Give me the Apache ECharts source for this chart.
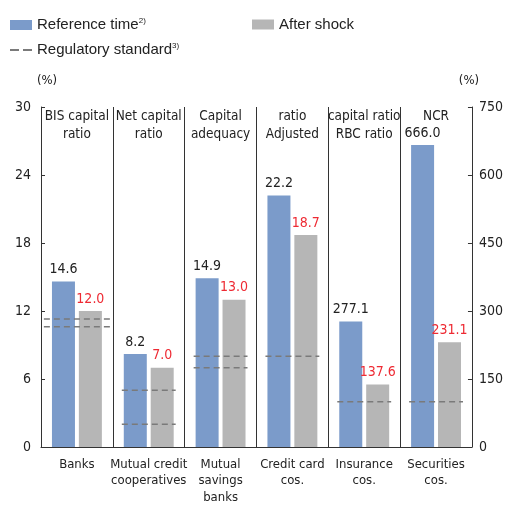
<!DOCTYPE html>
<html><head><meta charset="utf-8">
<script src="https://cdn.jsdelivr.net/npm/echarts@6/dist/echarts.min.js"></script>
<style>html,body{margin:0;padding:0;background:#fff}#c{width:506px;height:510px}</style>
</head><body><div id="c"></div>
<script>
// ---- data ----
const categories = ['Banks', 'Mutual credit\ncooperatives', 'Mutual\nsavings\nbanks', 'Credit card\ncos.', 'Insurance\ncos.', 'Securities\ncos.'];
const measureHeaders = ['BIS capital\nratio', 'Net capital\nratio', 'Capital\nadequacy', 'ratio\nAdjusted', 'capital ratio\nRBC ratio', 'NCR'];
const referenceLeft = [14.6, 8.2, 14.9, 22.2, null, null];
const afterShockLeft = [12.0, 7.0, 13.0, 18.7, null, null];
const referenceRight = [null, null, null, null, 277.1, 666.0];
const afterShockRight = [null, null, null, null, 137.6, 231.1];
const regulatoryLeft = [[0, 11.3], [0, 10.6], [1, 5.0], [1, 2.0], [2, 8.0], [2, 7.0], [3, 8.0]];
const regulatoryRight = [[4, 100], [5, 100]];
const leftAxisMin = 0, leftAxisMax = 30, leftAxisStep = 6;
const rightAxisMin = 0, rightAxisMax = 750, rightAxisStep = 150;

// ---- style ----
const BLUE = '#7b9bca', GRAY = '#b6b6b6', RED = '#ee2a33', DASH = '#7a7a7a', INK = '#222';
const COND = '"Liberation Sans Narrow","DejaVu Sans Condensed","Roboto Condensed",Roboto,sans-serif';
const SANS = '"Liberation Sans",Arial,sans-serif';

function renderReg(params, api) {
  const idx = api.value(0);
  const c = api.coord([idx, api.value(1)]);
  const band = api.size([1, 0])[0];
  const half = band * (idx === 0 ? 0.46 : 0.375);
  return {
    type: 'line',
    shape: { x1: c[0] - half, y1: c[1], x2: c[0] + half, y2: c[1] },
    style: { stroke: DASH, lineWidth: 1.5, lineDash: [6, 4] }
  };
}

const barLabel = (color) => ({
  show: true, position: 'top', distance: 5, color: color,
  fontFamily: COND, fontSize: 14,
  formatter: (p) => Number(p.value).toFixed(1)
});

const legendText = { fontFamily: SANS, fontSize: 15, color: INK,
  rich: { s: { fontFamily: SANS, fontSize: 8, color: INK, verticalAlign: 'top', padding: [0, 0, 8, 0] } } };
const legendFmt = (n) => n === 'Reference time' ? 'Reference time{s|2)}' : (n === 'Regulatory standard' ? 'Regulatory standard{s|3)}' : n);

const chart = echarts.init(document.getElementById('c'), null, { renderer: 'canvas' });
chart.setOption({
  animation: false,
  backgroundColor: '#fff',
  legend: [
    { data: ['Reference time'], left: 5, top: 12, itemWidth: 22, itemHeight: 10, itemGap: 8, textStyle: legendText, formatter: legendFmt, icon: 'rect', selectedMode: false },
    { data: ['After shock'], left: 247, top: 12, itemWidth: 22, itemHeight: 10, textStyle: legendText, formatter: legendFmt, icon: 'rect', selectedMode: false },
    { data: [{ name: 'Regulatory standard', icon: 'path://M0,0h9v2h-9zM13,0h9v2h-9z' }], left: 5, top: 37, itemWidth: 22, itemHeight: 2, textStyle: legendText, formatter: legendFmt, selectedMode: false }
  ],
  grid: { left: 41, right: 33, top: 107, bottom: 63, containLabel: false },
  xAxis: [
    {
      type: 'category', data: categories, position: 'bottom',
      axisLine: { show: true, lineStyle: { color: '#333', width: 1 } },
      axisTick: { show: false },
      splitLine: { show: true, lineStyle: { color: '#333', width: 1 } },
      axisLabel: { interval: 0, margin: 9, fontFamily: COND, fontSize: 13, color: INK, lineHeight: 16.5 }
    },
    {
      type: 'category', data: measureHeaders, position: 'top',
      axisLine: { show: false }, axisTick: { show: false }, splitLine: { show: false },
      axisLabel: { interval: 0, inside: true, margin: 0, fontFamily: COND, fontSize: 13.5, color: INK, lineHeight: 18.5 }
    }
  ],
  yAxis: [
    {
      type: 'value', min: leftAxisMin, max: leftAxisMax, interval: leftAxisStep, position: 'left',
      name: '(%)', nameLocation: 'end', nameGap: 20,
      nameTextStyle: { fontFamily: COND, fontSize: 13, color: INK, padding: [0, 0, 0, 12] },
      axisLine: { show: true, lineStyle: { color: '#333', width: 1 } },
      axisTick: { show: true, inside: true, length: 4, lineStyle: { color: '#333' } },
      splitLine: { show: false },
      axisLabel: { margin: 10, fontFamily: COND, fontSize: 14, color: INK }
    },
    {
      type: 'value', min: rightAxisMin, max: rightAxisMax, interval: rightAxisStep, position: 'right',
      name: '(%)', nameLocation: 'end', nameGap: 20,
      nameTextStyle: { fontFamily: COND, fontSize: 13, color: INK, padding: [0, 6, 0, 0] },
      axisLine: { show: true, lineStyle: { color: '#333', width: 1 } },
      axisTick: { show: true, inside: true, length: 4, lineStyle: { color: '#333' } },
      splitLine: { show: false },
      axisLabel: { margin: 7, fontFamily: COND, fontSize: 14, color: INK }
    }
  ],
  series: [
    { name: 'Reference time', type: 'bar', xAxisIndex: 0, yAxisIndex: 0, data: referenceLeft, barWidth: 23, barGap: '17%', itemStyle: { color: BLUE }, label: barLabel(INK) },
    { name: 'After shock', type: 'bar', xAxisIndex: 0, yAxisIndex: 0, data: afterShockLeft, barWidth: 23, barGap: '17%', itemStyle: { color: GRAY }, label: barLabel(RED) },
    { name: 'Reference time', type: 'bar', xAxisIndex: 1, yAxisIndex: 1, data: referenceRight, barWidth: 23, barGap: '17%', itemStyle: { color: BLUE }, label: barLabel(INK) },
    { name: 'After shock', type: 'bar', xAxisIndex: 1, yAxisIndex: 1, data: afterShockRight, barWidth: 23, barGap: '17%', itemStyle: { color: GRAY }, label: barLabel(RED) },
    { name: 'Regulatory standard', type: 'custom', xAxisIndex: 0, yAxisIndex: 0, data: regulatoryLeft, encode: { x: 0, y: 1 }, renderItem: renderReg, itemStyle: { color: DASH }, z: 5 },
    { name: 'Regulatory standard', type: 'custom', xAxisIndex: 1, yAxisIndex: 1, data: regulatoryRight, encode: { x: 0, y: 1 }, renderItem: renderReg, itemStyle: { color: DASH }, z: 5 }
  ]
});
</script>
</body></html>
